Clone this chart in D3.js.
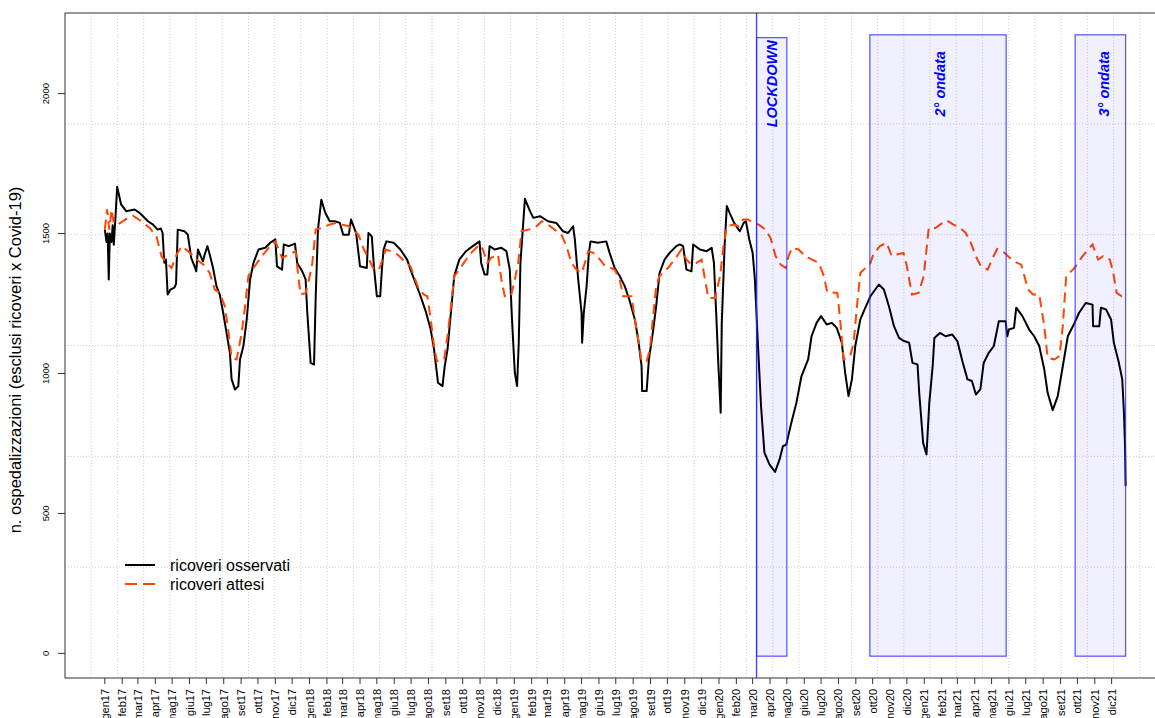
<!doctype html>
<meta charset='utf-8'>
<style>
  body { margin: 0; background: #fff; }
  svg { display: block; font-family: 'Liberation Sans', Arial, sans-serif; }
</style>
<body>
<script src='https://d3js.org/d3.v7.min.js'></script>
<script>

var monthNames = ['gen','feb','mar','apr','mag','giu','lug','ago','set','ott','nov','dic'];
var yTicks = [0, 500, 1000, 1500, 2000];
var yTitle = 'n. ospedalizzazioni (esclusi ricoveri x Covid-19)';
var legendLabels = ['ricoveri osservati', 'ricoveri attesi'];

// ricoveri osservati
var observed = [
  ['2017-01-01',1514],['2017-01-04',1470],['2017-01-06',1500],['2017-01-08',1336],['2017-01-10',1500],
  ['2017-01-13',1470],['2017-01-15',1530],['2017-01-17',1460],['2017-01-20',1560],['2017-01-23',1667],
  ['2017-01-30',1604],['2017-02-08',1580],['2017-02-23',1586],['2017-03-04',1574],['2017-03-10',1562],
  ['2017-03-19',1544],['2017-03-28',1532],['2017-04-05',1514],['2017-04-11',1518],['2017-04-14',1502],
  ['2017-04-17',1396],['2017-04-20',1407],['2017-04-23',1282],['2017-04-28',1300],['2017-05-05',1307],
  ['2017-05-08',1320],['2017-05-11',1514],['2017-05-23',1508],['2017-05-29',1496],['2017-06-01',1455],
  ['2017-06-04',1413],['2017-06-10',1383],['2017-06-13',1365],['2017-06-16',1443],['2017-06-21',1419],
  ['2017-06-25',1401],['2017-06-28',1425],['2017-07-03',1455],['2017-07-07',1425],['2017-07-13',1377],
  ['2017-07-19',1312],['2017-07-25',1282],['2017-07-31',1217],['2017-08-06',1145],['2017-08-12',1074],
  ['2017-08-15',980],['2017-08-21',943],['2017-08-27',955],['2017-08-30',1050],['2017-09-05',1097],
  ['2017-09-11',1193],['2017-09-17',1336],['2017-09-23',1395],['2017-10-02',1443],['2017-10-14',1449],
  ['2017-10-23',1467],['2017-11-01',1479],['2017-11-04',1383],['2017-11-13',1371],['2017-11-16',1461],
  ['2017-11-25',1455],['2017-12-06',1464],['2017-12-10',1395],['2017-12-19',1365],['2017-12-25',1336],
  ['2017-12-28',1217],['2018-01-03',1038],['2018-01-09',1032],['2018-01-12',1276],['2018-01-16',1514],
  ['2018-01-22',1621],['2018-01-29',1574],['2018-02-06',1544],['2018-02-15',1544],['2018-02-24',1538],
  ['2018-03-02',1496],['2018-03-12',1496],['2018-03-16',1550],['2018-03-25',1502],['2018-04-01',1383],
  ['2018-04-13',1377],['2018-04-16',1502],['2018-04-22',1490],['2018-04-26',1377],['2018-05-01',1276],
  ['2018-05-07',1276],['2018-05-10',1371],['2018-05-13',1443],['2018-05-18',1472],['2018-05-31',1467],
  ['2018-06-12',1443],['2018-06-24',1407],['2018-06-30',1371],['2018-07-09',1324],['2018-07-18',1276],
  ['2018-07-27',1223],['2018-08-05',1157],['2018-08-11',1086],['2018-08-16',1002],['2018-08-18',967],
  ['2018-08-26',955],['2018-08-30',1026],['2018-09-04',1086],['2018-09-10',1217],['2018-09-16',1348],
  ['2018-09-25',1407],['2018-10-07',1437],['2018-10-19',1455],['2018-10-31',1472],['2018-11-03',1395],
  ['2018-11-09',1354],['2018-11-14',1354],['2018-11-18',1455],['2018-11-27',1443],['2018-12-09',1449],
  ['2018-12-18',1437],['2018-12-24',1371],['2018-12-28',1193],['2019-01-02',1002],['2019-01-06',955],
  ['2019-01-09',1110],['2019-01-12',1395],['2019-01-17',1538],['2019-01-20',1624],['2019-01-29',1580],
  ['2019-02-04',1556],['2019-02-16',1562],['2019-03-02',1544],['2019-03-17',1538],['2019-03-29',1508],
  ['2019-04-07',1502],['2019-04-16',1526],['2019-04-19',1479],['2019-04-25',1336],['2019-05-01',1217],
  ['2019-05-02',1110],['2019-05-05',1217],['2019-05-10',1312],['2019-05-14',1431],['2019-05-17',1472],
  ['2019-05-30',1467],['2019-06-14',1472],['2019-06-20',1431],['2019-06-29',1377],['2019-07-08',1348],
  ['2019-07-17',1312],['2019-07-26',1258],['2019-08-04',1193],['2019-08-10',1121],['2019-08-16',1026],
  ['2019-08-17',937],['2019-08-25',937],['2019-08-29',1050],['2019-09-05',1145],['2019-09-11',1240],
  ['2019-09-17',1359],['2019-09-26',1407],['2019-10-05',1431],['2019-10-17',1455],['2019-10-23',1461],
  ['2019-10-29',1455],['2019-11-04',1371],['2019-11-13',1365],['2019-11-16',1461],['2019-11-28',1443],
  ['2019-12-10',1437],['2019-12-19',1449],['2019-12-23',1395],['2019-12-27',1217],['2019-12-31',1026],
  ['2020-01-03',907],['2020-01-04',860],['2020-01-06',1181],['2020-01-11',1455],['2020-01-15',1598],
  ['2020-01-20',1574],['2020-01-28',1538],['2020-02-07',1508],['2020-02-14',1538],['2020-02-18',1544],
  ['2020-02-24',1479],['2020-03-01',1431],['2020-03-05',1336],['2020-03-10',1121],['2020-03-16',883],
  ['2020-03-22',717],['2020-03-31',675],['2020-04-10',648],['2020-04-18',693],['2020-04-24',740],
  ['2020-04-30',746],['2020-05-09',824],['2020-05-18',895],['2020-05-27',990],['2020-06-08',1050],
  ['2020-06-14',1133],['2020-06-23',1181],['2020-07-01',1205],['2020-07-11',1175],['2020-07-20',1181],
  ['2020-07-29',1163],['2020-08-07',1110],['2020-08-13',1002],['2020-08-19',919],['2020-08-25',979],
  ['2020-08-31',1098],['2020-09-09',1193],['2020-09-18',1235],['2020-09-27',1276],['2020-10-12',1318],
  ['2020-10-21',1300],['2020-10-30',1240],['2020-11-08',1169],['2020-11-17',1127],['2020-11-26',1116],
  ['2020-12-05',1110],['2020-12-11',1038],['2020-12-20',1032],['2020-12-23',931],['2020-12-30',752],
  ['2021-01-05',711],['2021-01-10',895],['2021-01-16',1026],['2021-01-19',1127],['2021-01-29',1145],
  ['2021-02-08',1133],['2021-02-20',1139],['2021-03-01',1116],['2021-03-10',1044],['2021-03-19',979],
  ['2021-03-27',973],['2021-04-03',925],['2021-04-11',943],['2021-04-17',1038],['2021-04-26',1074],
  ['2021-05-05',1098],['2021-05-14',1187],['2021-05-26',1187],['2021-05-29',1133],['2021-06-01',1157],
  ['2021-06-10',1163],['2021-06-14',1235],['2021-06-25',1205],['2021-07-07',1157],['2021-07-16',1133],
  ['2021-07-25',1098],['2021-08-03',1014],['2021-08-09',931],['2021-08-18',869],['2021-08-27',919],
  ['2021-09-05',1026],['2021-09-14',1133],['2021-09-26',1181],['2021-10-04',1217],['2021-10-16',1252],
  ['2021-10-28',1246],['2021-10-29',1169],['2021-11-09',1169],['2021-11-12',1235],['2021-11-21',1229],
  ['2021-11-30',1193],['2021-12-05',1110],['2021-12-14',1038],['2021-12-20',979],['2021-12-23',860],
  ['2021-12-25',740],['2021-12-26',598]
];

// ricoveri attesi
var expected = [
  ['2017-01-01',1514],['2017-01-05',1586],['2017-01-09',1514],['2017-01-13',1586],['2017-01-17',1538],
  ['2017-01-24',1532],['2017-02-11',1556],['2017-02-20',1564],['2017-03-07',1544],['2017-03-22',1520],
  ['2017-04-03',1490],['2017-04-12',1419],['2017-04-21',1395],['2017-04-30',1377],['2017-05-09',1425],
  ['2017-05-18',1455],['2017-06-02',1431],['2017-06-14',1407],['2017-06-26',1389],['2017-07-07',1359],
  ['2017-07-16',1300],['2017-07-25',1288],['2017-08-03',1240],['2017-08-09',1157],['2017-08-15',1056],
  ['2017-08-24',1050],['2017-09-02',1145],['2017-09-08',1240],['2017-09-14',1348],['2017-09-23',1377],
  ['2017-10-08',1419],['2017-10-20',1449],['2017-11-01',1472],['2017-11-13',1413],['2017-11-25',1425],
  ['2017-12-07',1437],['2017-12-13',1330],['2017-12-16',1282],['2017-12-25',1288],['2017-12-31',1336],
  ['2018-01-06',1395],['2018-01-12',1514],['2018-01-24',1520],['2018-02-05',1532],['2018-02-17',1538],
  ['2018-02-28',1532],['2018-03-12',1526],['2018-03-20',1512],['2018-03-29',1496],['2018-04-08',1443],
  ['2018-04-17',1407],['2018-04-26',1371],['2018-05-05',1371],['2018-05-11',1407],['2018-05-17',1443],
  ['2018-05-26',1437],['2018-06-07',1425],['2018-06-22',1395],['2018-06-30',1383],['2018-07-06',1348],
  ['2018-07-15',1300],['2018-07-24',1282],['2018-07-30',1276],['2018-08-05',1193],['2018-08-11',1098],
  ['2018-08-16',1044],['2018-08-29',1050],['2018-09-04',1133],['2018-09-10',1240],['2018-09-16',1348],
  ['2018-09-25',1371],['2018-10-07',1407],['2018-10-19',1437],['2018-10-31',1461],['2018-11-06',1443],
  ['2018-11-14',1395],['2018-11-21',1413],['2018-12-03',1425],['2018-12-09',1336],['2018-12-15',1276],
  ['2018-12-26',1276],['2019-01-02',1336],['2019-01-08',1395],['2019-01-14',1508],['2019-01-26',1514],
  ['2019-02-07',1520],['2019-02-19',1544],['2019-03-02',1532],['2019-03-14',1514],['2019-03-26',1496],
  ['2019-04-04',1455],['2019-04-13',1395],['2019-04-22',1371],['2019-05-01',1359],['2019-05-07',1395],
  ['2019-05-13',1437],['2019-05-22',1431],['2019-06-03',1407],['2019-06-12',1383],['2019-06-22',1377],
  ['2019-06-29',1371],['2019-07-08',1336],['2019-07-14',1276],['2019-07-29',1276],['2019-08-04',1193],
  ['2019-08-10',1121],['2019-08-16',1044],['2019-08-25',1044],['2019-08-31',1086],['2019-09-05',1193],
  ['2019-09-11',1312],['2019-09-17',1348],['2019-10-02',1377],['2019-10-14',1407],['2019-10-26',1443],
  ['2019-11-04',1407],['2019-11-13',1389],['2019-11-22',1395],['2019-12-01',1407],['2019-12-07',1336],
  ['2019-12-13',1270],['2019-12-25',1270],['2020-01-03',1348],['2020-01-09',1455],['2020-01-15',1526],
  ['2020-01-27',1532],['2020-02-05',1526],['2020-02-13',1550],['2020-02-22',1550],['2020-03-01',1538],
  ['2020-03-12',1532],['2020-03-24',1514],['2020-04-02',1484],['2020-04-11',1419],['2020-04-20',1389],
  ['2020-04-29',1377],['2020-05-04',1419],['2020-05-10',1449],['2020-05-22',1443],['2020-06-03',1419],
  ['2020-06-15',1407],['2020-06-27',1395],['2020-07-06',1348],['2020-07-12',1291],['2020-07-30',1288],
  ['2020-08-04',1193],['2020-08-10',1050],['2020-08-22',1062],['2020-08-28',1110],['2020-09-03',1240],
  ['2020-09-09',1359],['2020-09-18',1377],['2020-09-26',1389],['2020-10-02',1425],['2020-10-14',1455],
  ['2020-10-26',1467],['2020-11-04',1419],['2020-11-13',1425],['2020-11-25',1431],['2020-12-01',1383],
  ['2020-12-10',1282],['2020-12-22',1288],['2020-12-31',1348],['2021-01-09',1520],['2021-01-21',1520],
  ['2021-01-29',1532],['2021-02-10',1547],['2021-02-22',1532],['2021-03-04',1524],['2021-03-16',1502],
  ['2021-03-25',1467],['2021-04-03',1419],['2021-04-12',1383],['2021-04-24',1371],['2021-05-03',1413],
  ['2021-05-11',1445],['2021-05-24',1431],['2021-06-09',1401],['2021-06-23',1389],['2021-07-05',1300],
  ['2021-07-14',1282],['2021-07-25',1282],['2021-08-03',1169],['2021-08-09',1056],['2021-08-21',1050],
  ['2021-08-30',1062],['2021-09-05',1169],['2021-09-11',1348],['2021-09-26',1377],['2021-10-08',1413],
  ['2021-10-20',1443],['2021-10-28',1461],['2021-11-07',1407],['2021-11-16',1419],['2021-11-28',1407],
  ['2021-12-04',1359],['2021-12-10',1288],['2021-12-19',1276],['2021-12-26',1276]
];

// shaded periods: start, end, top value, label, label date, label value
var periods = [
  {start: '2020-03-08', end: '2020-05-01', top: 2200, bottom: -10, label: 'LOCKDOWN',  at: '2020-04-04', v: 2035},
  {start: '2020-09-26', end: '2021-05-27', top: 2210, bottom: -10, label: '2° ondata', at: '2021-01-29', v: 2035},
  {start: '2021-09-27', end: '2021-12-26', top: 2210, bottom: -10, label: '3° ondata', at: '2021-11-18', v: 2035}
];
var lockdownStart = '2020-03-08';

var width = 1155,
    height = 718,
    margin = {top: 13, left: 65, bottom: 40},
    plotRight = 1166;

var parse = d3.timeParse('%Y-%m-%d');
var obs = observed.map(function(d) { return {date: parse(d[0]), v: d[1]}; });
var exp = expected.map(function(d) { return {date: parse(d[0]), v: d[1]}; });

var x = d3.scaleTime()
    .domain([parse('2016-10-22'), parse('2022-03-08')])
    .range([margin.left, plotRight]);

var y = d3.scaleLinear()
    .domain([-88, 2288])
    .range([height - margin.bottom, margin.top]);

var svg = d3.select('body').append('svg')
    .attr('width', width)
    .attr('height', height);

var x0 = x.range()[0], x1 = x.range()[1],
    yb = y.range()[0], yt = y.range()[1];

// grid (R style: equal divisions of the plot region)
var nx = 42, ny = 6;
var grid = svg.append('g')
    .attr('stroke', '#cfcfcf')
    .attr('stroke-width', 1)
    .attr('stroke-dasharray', '1,2');
d3.range(1, nx).forEach(function(k) {
  var gx = x0 + k * (x1 - x0) / nx;
  grid.append('line').attr('x1', gx).attr('x2', gx).attr('y1', yt).attr('y2', yb);
});
d3.range(1, ny).forEach(function(k) {
  var gy = yt + k * (yb - yt) / ny;
  grid.append('line').attr('x1', x0).attr('x2', x1).attr('y1', gy).attr('y2', gy);
});

var line = d3.line()
    .x(function(d) { return x(d.date); })
    .y(function(d) { return y(d.v); });

svg.append('path')
    .datum(obs)
    .attr('fill', 'none')
    .attr('stroke', '#000')
    .attr('stroke-width', 2)
    .attr('stroke-linejoin', 'round')
    .attr('d', line);

svg.append('path')
    .datum(exp)
    .attr('fill', 'none')
    .attr('stroke', '#ff4500')
    .attr('stroke-width', 2)
    .attr('stroke-dasharray', '10,6')
    .attr('d', line);

// periods
var pg = svg.append('g');
pg.selectAll('rect')
    .data(periods)
    .enter().append('rect')
    .attr('x', function(d) { return x(parse(d.start)); })
    .attr('width', function(d) { return x(parse(d.end)) - x(parse(d.start)); })
    .attr('y', function(d) { return y(d.top); })
    .attr('height', function(d) { return y(d.bottom) - y(d.top); })
    .attr('fill', 'rgba(0,0,255,0.06)')
    .attr('stroke', 'rgba(40,40,255,0.8)')
    .attr('stroke-width', 1.2);

svg.append('line')
    .attr('x1', x(parse(lockdownStart))).attr('x2', x(parse(lockdownStart)))
    .attr('y1', yt).attr('y2', yb)
    .attr('stroke', 'rgba(40,40,255,0.9)')
    .attr('stroke-width', 1.3);

pg.selectAll('text')
    .data(periods)
    .enter().append('text')
    .attr('transform', function(d) {
      return 'translate(' + x(parse(d.at)) + ',' + y(d.v) + ') rotate(-90)';
    })
    .attr('text-anchor', 'middle')
    .attr('dominant-baseline', 'central')
    .style('font-size', '14.5px')
    .style('font-weight', 'bold')
    .style('font-style', 'italic')
    .style('fill', '#0000ff')
    .text(function(d) { return d.label; });

// frame
svg.append('rect')
    .attr('x', x0).attr('y', yt)
    .attr('width', x1 - x0).attr('height', yb - yt)
    .attr('fill', 'none')
    .attr('stroke', '#333')
    .attr('stroke-width', 1);

// y axis
var ya = svg.append('g');
ya.selectAll('line')
    .data(yTicks)
    .enter().append('line')
    .attr('x1', x0 - 7).attr('x2', x0)
    .attr('y1', function(d) { return y(d); })
    .attr('y2', function(d) { return y(d); })
    .attr('stroke', '#333');
ya.selectAll('text')
    .data(yTicks)
    .enter().append('text')
    .attr('transform', function(d) { return 'translate(' + (x0 - 20) + ',' + y(d) + ') rotate(-90)'; })
    .attr('text-anchor', 'middle')
    .attr('dominant-baseline', 'central')
    .style('font-size', '9.5px')
    .text(function(d) { return d; });

svg.append('text')
    .attr('transform', 'translate(15,360) rotate(-90)')
    .attr('text-anchor', 'middle')
    .attr('dominant-baseline', 'central')
    .style('font-size', '16.5px')
    .text(yTitle);

// x axis: one tick per month
var months = d3.timeMonth.range(parse('2017-01-01'), parse('2022-01-01'));
var xa = svg.append('g');
xa.selectAll('line')
    .data(months)
    .enter().append('line')
    .attr('x1', function(d) { return x(d); })
    .attr('x2', function(d) { return x(d); })
    .attr('y1', yb).attr('y2', yb + 6)
    .attr('stroke', '#333');
xa.selectAll('text')
    .data(months)
    .enter().append('text')
    .attr('transform', function(d) { return 'translate(' + x(d) + ',' + (yb + 11) + ') rotate(-90)'; })
    .attr('text-anchor', 'end')
    .attr('dominant-baseline', 'central')
    .style('font-size', '11px')
    .text(function(d) { return monthNames[d.getMonth()] + d3.timeFormat('%y')(d); });

// legend
var lg = svg.append('g');
var legendStyles = [{stroke: '#000', dash: null}, {stroke: '#ff4500', dash: '12,6'}];
legendLabels.forEach(function(t, i) {
  var ly = 565 + i * 19;
  lg.append('line')
    .attr('x1', 125).attr('x2', 155)
    .attr('y1', ly).attr('y2', ly)
    .attr('stroke', legendStyles[i].stroke)
    .attr('stroke-width', 2)
    .attr('stroke-dasharray', legendStyles[i].dash);
  lg.append('text')
    .attr('x', 170).attr('y', ly)
    .attr('dominant-baseline', 'central')
    .style('font-size', '16px')
    .text(t);
});

</script>
